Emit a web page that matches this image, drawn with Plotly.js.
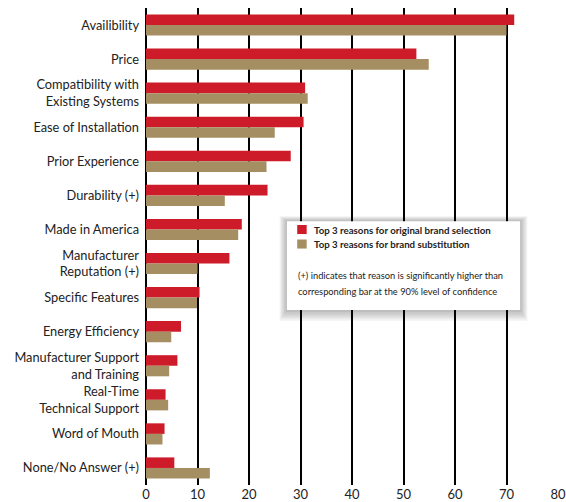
<!DOCTYPE html>
<html>
<head>
<meta charset="utf-8">
<script src="https://cdn.plot.ly/plotly-3.0.1.min.js"></script>
<style>html,body{margin:0;padding:0;background:#fff;}#chart{width:566px;height:502px;}</style>
</head>
<body>
<div id="chart"></div>
<script>
const categories = [
  "Availibility",
  "Price",
  "Compatibility with<br>Existing Systems",
  "Ease of Installation",
  "Prior Experience",
  "Durability (+)",
  "Made in America",
  "Manufacturer<br>Reputation (+)",
  "Specific Features",
  "Energy Efficiency",
  "Manufacturer Support<br>and Training",
  "Real-Time<br>Technical Support",
  "Word of Mouth",
  "None/No Answer (+)"
];
const originalSelection = [71.5, 52.5, 30.9, 30.6, 28.1, 23.6, 18.6, 16.2, 10.4, 6.8, 6.1, 3.8, 3.6, 5.5];
const brandSubstitution = [70.0, 54.9, 31.4, 25.0, 23.4, 15.3, 17.9, 10.0, 9.9, 4.9, 4.5, 4.3, 3.2, 12.4];
const seriesNames = ["Top 3 reasons for original brand selection", "Top 3 reasons for brand substitution"];
const xTicks = [0, 10, 20, 30, 40, 50, 60, 70, 80];
const noteLines = [
  "(+) indicates that reason is significantly higher than",
  "corresponding bar at the 90% level of confidence"
];

const red = "#CE1B29", tan = "#A58F62";
const colors = [red, tan];
const FONT = "Lato, 'DejaVu Sans', sans-serif";
const traces = [
  {type: "bar", orientation: "h", name: seriesNames[0], y: categories, x: originalSelection,
   marker: {color: red}, hoverinfo: "x", showlegend: false},
  {type: "bar", orientation: "h", name: seriesNames[1], y: categories, x: brandSubstitution,
   marker: {color: tan}, hoverinfo: "x", showlegend: false}
];

// legend box (paper coords)
const bx0 = 0.342, bx1 = 0.908, by0 = 0.367, by1 = 0.553;
const shapes = [];
for (let i = 5; i >= 1; i--) {
  const d = i * 0.0035;
  shapes.push({type: "rect", xref: "paper", yref: "paper", layer: "above",
    x0: bx0 - d, x1: bx1 + d, y0: by0 - d * 1.3, y1: by1 + d * 0.6,
    fillcolor: "rgba(0,0,0,0.055)", line: {width: 0}});
}
shapes.push({type: "rect", xref: "paper", yref: "paper", layer: "above",
  x0: bx0, x1: bx1, y0: by0, y1: by1, fillcolor: "#ffffff", line: {width: 0}});

// legend entries
const legY = [0.5356, 0.5052];
const annotations = [];
seriesNames.forEach((name, i) => {
  shapes.push({type: "rect", xref: "paper", yref: "paper", layer: "above",
    x0: 0.367, x1: 0.390, y0: legY[i] - 0.0095, y1: legY[i] + 0.0095,
    fillcolor: colors[i], line: {width: 0}});
  annotations.push({xref: "paper", yref: "paper", x: 0.403, y: legY[i], xanchor: "left", yanchor: "middle",
    text: "<b>" + name + "</b>", showarrow: false, font: {family: FONT, size: 9.7, color: "#222"}});
});
noteLines.forEach((t, i) => {
  annotations.push({xref: "paper", yref: "paper", x: 0.364, y: 0.4388 - i * 0.0321, xanchor: "left", yanchor: "middle",
    text: t, showarrow: false, font: {family: FONT, size: 9.3, color: "#222"}});
});

const layout = {
  width: 566, height: 502,
  margin: {l: 146, r: 8, t: 8, b: 17, pad: 0},
  paper_bgcolor: "#fff", plot_bgcolor: "#fff",
  barmode: "group", bargap: 0.38, bargroupgap: 0,
  font: {family: FONT, color: "#222"},
  xaxis: {range: [0, 80], tickvals: xTicks, ticktext: xTicks.map(String),
    showgrid: true, gridcolor: "#000", gridwidth: 2,
    zeroline: true, zerolinecolor: "#000", zerolinewidth: 2,
    showline: false, ticks: "", fixedrange: true,
    tickfont: {family: FONT, size: 13, color: "#222"}},
  yaxis: {autorange: "reversed", type: "category", ticks: "", showgrid: false, zeroline: false,
    ticklabelstandoff: 6,
    tickfont: {family: FONT, size: 12.8, color: "#222"}},
  showlegend: false,
  shapes: shapes,
  annotations: annotations
};

Plotly.newPlot("chart", traces, layout, {displayModeBar: false, staticPlot: true});
</script>
</body>
</html>
